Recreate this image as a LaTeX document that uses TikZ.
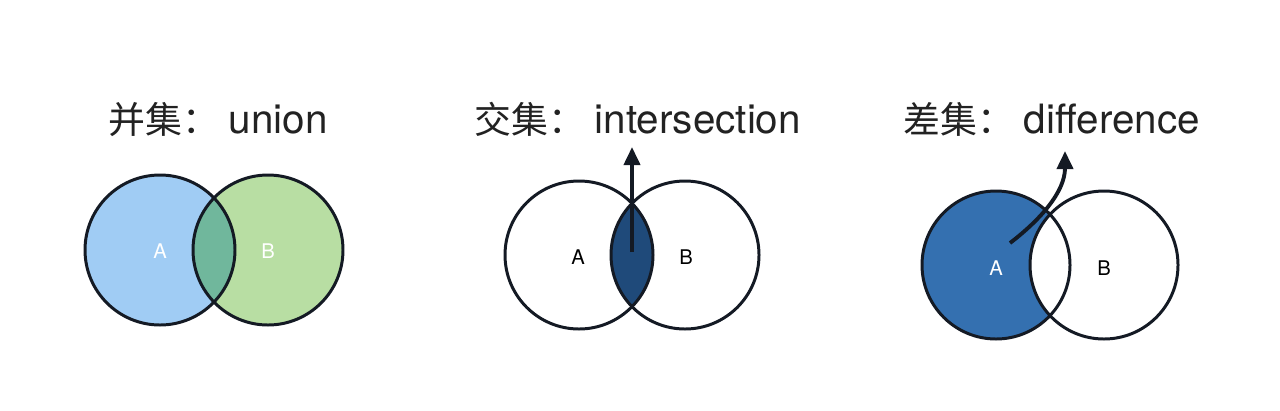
\documentclass[tikz,border=0pt]{standalone}
\usepackage{fontspec}
\setmainfont{TeX Gyre Heros}
\newfontfamily\cjk{Noto Sans CJK SC}
\usetikzlibrary{arrows.meta, positioning}
\definecolor{cBlueL}{RGB}{160,204,244}
\definecolor{cGreenL}{RGB}{184,222,163}
\definecolor{cMix}{RGB}{112,183,156}
\definecolor{cNavy}{RGB}{31,74,122}
\definecolor{cBlue}{RGB}{52,112,176}
\definecolor{cEdge}{RGB}{20,26,36}
\definecolor{cText}{RGB}{34,34,34}
\tikzset{
	title/.style   ={anchor=base west, inner sep=0pt, text=cText, font=\fontsize{23}{27}\selectfont},
	setlabel/.style={inner sep=1pt, font=\fontsize{11.5}{13}\selectfont},
	ring/.style    ={line width=1.7pt, draw=cEdge},
	pointer/.style ={-{Triangle[length=3.6mm, width=3.2mm]}, line width=2.2pt, cEdge},
}
\newcommand{\zh}[1]{{\cjk\fontsize{21}{25}\selectfont #1}\hspace{5.5pt}}
\begin{document}
\begin{tikzpicture}[x=0.02cm, y=-0.02cm]
	\useasboundingbox (0,0) rectangle (1280,410);
	% titles
	\node[title] (tUnion) at (108,133) {\zh{并集：}union};
	\node[title] (tInter) at (474,133) {\zh{交集：}intersection};
	\node[title] (tDiff)  at (903,133) {\zh{差集：}difference};
	% union
	\fill[cBlueL] (160,250) circle[radius=75];
	\fill[cGreenL] (268,250) circle[radius=75];
	\begin{scope}
		\clip (160,250) circle[radius=75];
		\fill[cMix] (268,250) circle[radius=75];
	\end{scope}
	\draw[ring] (160,250) circle[radius=75];
	\draw[ring] (268,250) circle[radius=75];
	\node[setlabel, text=white] (uA) at (160,251) {A};
	\node[setlabel, text=white] (uB) at (268,251) {B};
	% intersection
	\begin{scope}
		\clip (579,255) circle[radius=74];
		\fill[cNavy] (685,255) circle[radius=74];
	\end{scope}
	\draw[ring] (579,255) circle[radius=74];
	\draw[ring] (685,255) circle[radius=74];
	\node[setlabel] (iA) at (578,257) {A};
	\node[setlabel] (iB) at (686,257) {B};
	\coordinate (iFrom) at (632,252);
	\coordinate (iTo) at (632,147);
	\draw[pointer] (iFrom) -- (iTo);
	% difference
	\fill[cBlue] (996,265) circle[radius=74];
	\fill[white] (1104,265) circle[radius=74];
	\draw[ring] (996,265) circle[radius=74];
	\draw[ring] (1104,265) circle[radius=74];
	\node[setlabel, text=white] (dA) at (996,268) {A};
	\node[setlabel] (dB) at (1104,268) {B};
	\coordinate (dFrom) at (1010,243);
	\coordinate (dTo) at (1065,151);
	\draw[pointer] (dFrom) .. controls (1040,220) and (1065,192) .. (dTo);
\end{tikzpicture}
\end{document}
